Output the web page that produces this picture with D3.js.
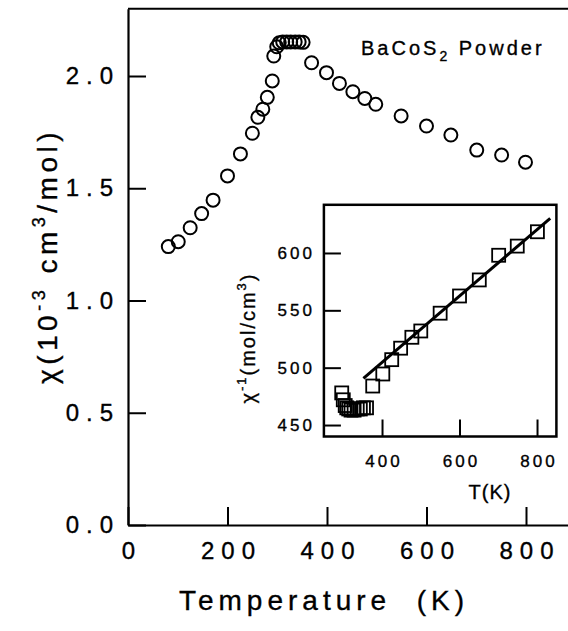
<!DOCTYPE html>
<html>
<head>
<meta charset="utf-8">
<script src="https://cdn.jsdelivr.net/npm/d3@7"></script>
<style>
  body { margin: 0; background: #fff; }
  svg { display: block; font-family: "Liberation Sans", Arial, sans-serif; }
  .axis path, .axis line { stroke: #000; }
  text { stroke: #000; stroke-width: 0.35px; }
</style>
</head>
<body>
<svg id="chart" width="568" height="631"></svg>
<script>
// main panel: susceptibility vs temperature
const tempK = [81, 101, 125, 148, 171, 200, 226, 250, 261, 271, 280, 290, 293, 299, 304,
  311, 319, 327, 336, 344, 352, 369, 399, 425, 452, 476, 498, 549, 600, 649, 701, 751, 799];
const chi = [1.240, 1.262, 1.324, 1.387, 1.447, 1.555, 1.653, 1.745, 1.816, 1.852, 1.905, 1.978, 2.089, 2.130, 2.148,
  2.152, 2.152, 2.152, 2.152, 2.152, 2.150, 2.059, 2.015, 1.967, 1.930, 1.900, 1.874, 1.822, 1.777, 1.737, 1.670, 1.648, 1.616];

const xTicks = [0, 200, 400, 600, 800];
const yTicks = [0, 0.5, 1.0, 1.5, 2.0];

// inset: inverse susceptibility
const insetT = [296, 300, 305, 309, 314, 320, 328, 336, 344, 352, 360,
  376, 402, 425, 448, 477, 500, 550, 600, 651, 701, 749, 801];
const insetInv = [478, 472, 467, 465, 464, 463, 463, 464, 464, 465, 465,
  484, 494.5, 507, 517, 526.5, 532, 547.5, 562.5, 576.5, 598, 606, 618.5];
const fitT = [352, 834];
const fitInv = [490.7, 630.2];

const insetXTicks = [400, 600, 800];
const insetYTicks = [450, 500, 550, 600];

const svg = d3.select('#chart');

// scales for main plot
const x = d3.scaleLinear().domain([0, 900]).range([128, 575.75]);
const y = d3.scaleLinear().domain([0, 2.3]).range([525, 8.65]);

const bigFont = 24, bigSpace = 7;

// bottom axis
const xAxis = svg.append('g')
  .attr('class', 'axis')
  .attr('transform', `translate(0,${y(0)})`)
  .call(d3.axisBottom(x).tickValues(xTicks).tickSize(-18).tickSizeOuter(0).tickPadding(17).tickFormat(d3.format('d')));
xAxis.select('.domain').attr('stroke-width', 2.2);
xAxis.selectAll('.tick line').attr('stroke-width', 2);
xAxis.selectAll('text')
  .attr('font-size', bigFont).attr('letter-spacing', bigSpace)
  .attr('dx', bigSpace / 2).attr('fill', '#000');

// left axis
const yAxis = svg.append('g')
  .attr('class', 'axis')
  .attr('transform', `translate(${x(0)},0)`)
  .call(d3.axisLeft(y).tickValues(yTicks).tickSize(-18).tickSizeOuter(0).tickPadding(15).tickFormat(d3.format('.1f')));
yAxis.select('.domain').attr('stroke-width', 2.2);
yAxis.selectAll('.tick line').attr('stroke-width', 2);
yAxis.selectAll('text')
  .attr('font-size', bigFont).attr('letter-spacing', bigSpace)
  .attr('dx', bigSpace).attr('fill', '#000');

// top border
svg.append('line')
  .attr('x1', x(0)).attr('x2', x(900))
  .attr('y1', y(2.3)).attr('y2', y(2.3))
  .attr('stroke', '#000').attr('stroke-width', 2);

// axis titles
svg.append('text')
  .attr('x', 324).attr('y', 610)
  .attr('text-anchor', 'middle')
  .attr('font-size', 28).attr('letter-spacing', 5)
  .style('white-space', 'pre')
  .text('Temperature  (K)');

const yTitle = svg.append('text')
  .attr('transform', 'translate(57,256) rotate(-90)')
  .attr('text-anchor', 'middle')
  .attr('font-size', 28).attr('letter-spacing', 4.5)
  .style('white-space', 'pre');
yTitle.append('tspan').text('χ(10');
yTitle.append('tspan').attr('dy', -12).attr('font-size', 18).text('-3');
yTitle.append('tspan').attr('dy', 12).text(' cm');
yTitle.append('tspan').attr('dy', -12).attr('font-size', 18).text('3');
yTitle.append('tspan').attr('dy', 12).text('/mol)');

// label
const lab = svg.append('text')
  .attr('x', 361).attr('y', 55)
  .attr('font-size', 20).attr('letter-spacing', 3)
  .style('white-space', 'pre');
lab.append('tspan').text('BaCoS');
lab.append('tspan').attr('dy', 6).attr('font-size', 14).text('2');
lab.append('tspan').attr('dy', -6).text(' Powder');

// main data circles
svg.append('g')
  .selectAll('circle')
  .data(tempK.map((t, i) => [t, chi[i]]))
  .join('circle')
  .attr('cx', d => x(d[0]))
  .attr('cy', d => y(d[1]))
  .attr('r', 6.5)
  .attr('fill', 'none')
  .attr('stroke', '#000')
  .attr('stroke-width', 2);

// ---- inset ----
const xi = d3.scaleLinear().domain([250, 850]).range([323.9, 556.4]);
const yi = d3.scaleLinear().domain([440, 642]).range([436.5, 204.8]);

const inset = svg.append('g');
inset.append('rect')
  .attr('x', xi(250)).attr('y', yi(642))
  .attr('width', xi(850) - xi(250)).attr('height', yi(440) - yi(642))
  .attr('fill', '#fff');

const smallFont = 17, smallSpace = 3;

const ixAxis = inset.append('g')
  .attr('class', 'axis')
  .attr('transform', `translate(0,${yi(440)})`)
  .call(d3.axisBottom(xi).tickValues(insetXTicks).tickSize(-17).tickSizeOuter(0).tickPadding(18));
ixAxis.select('.domain').remove();
ixAxis.selectAll('.tick line').attr('stroke-width', 2);
ixAxis.selectAll('text')
  .attr('font-size', smallFont).attr('letter-spacing', smallSpace)
  .attr('dx', smallSpace / 2).attr('fill', '#000');

const iyAxis = inset.append('g')
  .attr('class', 'axis')
  .attr('transform', `translate(${xi(250)},0)`)
  .call(d3.axisLeft(yi).tickValues(insetYTicks).tickSize(-17).tickSizeOuter(0).tickPadding(12));
iyAxis.select('.domain').remove();
iyAxis.selectAll('.tick line').attr('stroke-width', 2);
iyAxis.selectAll('text')
  .attr('font-size', smallFont).attr('letter-spacing', smallSpace)
  .attr('dx', smallSpace).attr('fill', '#000');

inset.append('rect')
  .attr('x', xi(250)).attr('y', yi(642))
  .attr('width', xi(850) - xi(250)).attr('height', yi(440) - yi(642))
  .attr('fill', 'none').attr('stroke', '#000').attr('stroke-width', 2.5);

// squares
const sq = 13;
inset.append('g')
  .selectAll('rect')
  .data(insetT.map((t, i) => [t, insetInv[i]]))
  .join('rect')
  .attr('x', d => xi(d[0]) - sq / 2)
  .attr('y', d => yi(d[1]) - sq / 2)
  .attr('width', sq).attr('height', sq)
  .attr('fill', 'none')
  .attr('stroke', '#000')
  .attr('stroke-width', 1.8);

// linear fit
inset.append('path')
  .datum(fitT.map((t, i) => [t, fitInv[i]]))
  .attr('d', d3.line().x(d => xi(d[0])).y(d => yi(d[1])))
  .attr('stroke', '#000').attr('stroke-width', 3).attr('fill', 'none');

inset.append('text')
  .attr('x', 490).attr('y', 499)
  .attr('text-anchor', 'middle')
  .attr('font-size', 20).attr('letter-spacing', 1)
  .text('T(K)');

const iyTitle = inset.append('text')
  .attr('transform', 'translate(255,338) rotate(-90)')
  .attr('text-anchor', 'middle')
  .attr('font-size', 20).attr('letter-spacing', 2)
  .style('white-space', 'pre');
iyTitle.append('tspan').text('χ');
iyTitle.append('tspan').attr('dy', -9).attr('font-size', 13).text('-1');
iyTitle.append('tspan').attr('dy', 9).text('(mol/cm');
iyTitle.append('tspan').attr('dy', -9).attr('font-size', 13).text('3');
iyTitle.append('tspan').attr('dy', 9).text(')');
</script>
</body>
</html>
